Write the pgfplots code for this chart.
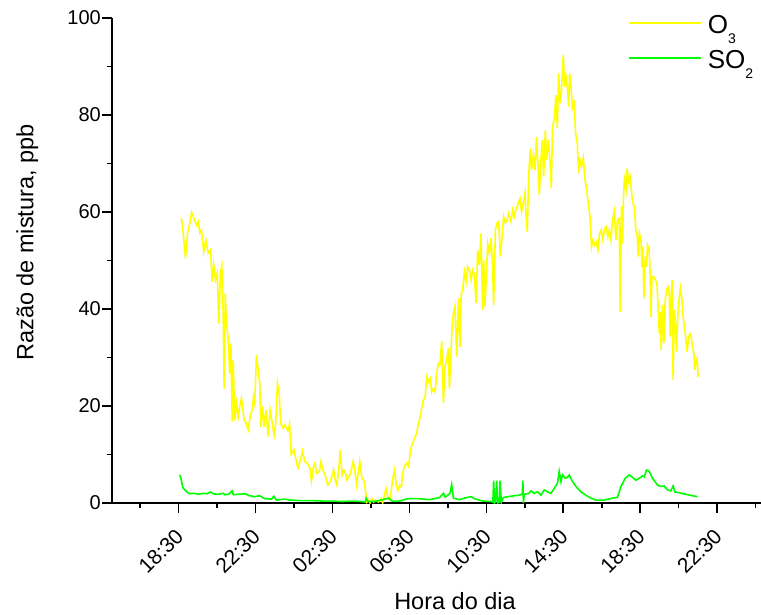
\documentclass[border=0pt]{standalone}
\usepackage{pgfplots}
\pgfplotsset{compat=1.18}
\usepackage{pgfplotstable}
\usepackage{fontspec}
\setmainfont{Liberation Sans}

\definecolor{oyellow}{RGB}{255,255,0}
\definecolor{sgreen}{RGB}{0,255,0}

% O3 mixing ratio (ppb); time in hours counted from midnight of the first day
\pgfplotstableread{
h v
18.62 58.7
18.66 58.5
18.74 55.7
18.86 50.5
18.97 55.7
19.09 57.7
19.18 59.9
19.32 58.5
19.44 57.3
19.52 58.0
19.61 55.7
19.69 56.3
19.81 51.8
19.92 54.2
20.04 51.5
20.16 52.2
20.25 45.6
20.33 49.1
20.42 46.0
20.51 47.4
20.59 37.0
20.68 47.7
20.75 48.9
20.82 39.1
20.87 23.6
20.93 43.2
20.99 37.0
21.08 34.0
21.16 26.7
21.22 32.9
21.29 16.8
21.34 29.5
21.42 17.1
21.51 20.6
21.60 17.8
21.68 19.9
21.77 21.6
21.91 17.1
22.02 16.4
22.12 15.1
22.22 17.8
22.33 19.2
22.40 21.9
22.46 20.6
22.55 30.5
22.64 27.4
22.72 24.7
22.78 15.7
22.86 19.9
22.95 15.7
23.04 19.2
23.16 13.7
23.26 19.2
23.37 16.4
23.47 14.0
23.55 16.4
23.64 24.7
23.73 22.6
23.81 16.4
23.94 15.4
24.02 16.1
24.18 14.9
24.27 16.3
24.36 10.0
24.50 11.0
24.62 8.6
24.71 7.2
24.84 8.9
24.94 10.7
25.06 8.6
25.20 8.2
25.33 7.2
25.41 4.5
25.50 7.2
25.59 8.2
25.68 6.1
25.82 6.5
25.91 8.6
26.00 6.8
26.12 5.8
26.26 3.7
26.39 4.4
26.47 5.4
26.56 6.8
26.65 4.7
26.73 3.7
26.82 6.5
26.91 11.0
27.00 5.8
27.09 6.8
27.18 6.1
27.26 4.7
27.35 5.4
27.44 6.1
27.58 8.6
27.67 6.5
27.76 3.7
27.85 6.5
27.92 8.6
28.02 5.4
28.15 4.4
28.24 1.9
28.29 0.2
28.38 0.6
28.46 0.0
28.55 0.9
28.64 0.2
28.76 0.6
28.90 0.2
29.02 0.9
29.11 0.0
29.20 1.6
29.29 3.0
29.38 1.2
29.47 0.6
29.55 2.3
29.64 5.1
29.73 6.8
29.82 3.7
29.91 2.6
30.00 3.7
30.08 3.3
30.15 6.1
30.24 7.5
30.36 8.2
30.46 7.5
30.55 10.9
30.67 12.3
30.76 13.3
30.88 14.4
30.97 16.4
31.06 17.8
31.14 19.5
31.23 21.2
31.32 21.9
31.40 26.0
31.49 25.0
31.58 25.7
31.66 22.9
31.75 23.6
31.84 22.9
31.92 26.7
32.01 28.8
32.09 28.5
32.18 33.3
32.27 20.6
32.35 28.1
32.44 29.5
32.53 31.9
32.58 23.6
32.67 31.5
32.72 36.4
32.79 39.1
32.87 40.5
32.96 30.2
33.05 42.2
33.13 32.2
33.19 42.9
33.27 43.9
33.36 47.7
33.45 45.6
33.53 48.7
33.62 48.0
33.71 46.0
33.79 48.0
33.88 47.0
33.97 41.2
34.05 52.2
34.14 49.1
34.22 55.6
34.31 39.8
34.36 50.1
34.43 40.5
34.52 48.7
34.57 53.5
34.66 51.5
34.74 54.6
34.83 48.7
34.88 40.8
34.97 56.3
35.06 57.7
35.14 58.0
35.23 50.8
35.32 54.9
35.40 59.0
35.49 57.7
35.58 58.4
35.66 59.7
35.78 58.0
35.87 60.4
35.95 59.0
36.04 60.4
36.16 61.8
36.25 62.8
36.33 60.1
36.42 61.8
36.51 63.9
36.56 59.7
36.63 55.9
36.70 67.3
36.79 73.1
36.85 68.7
36.94 71.8
37.03 68.7
37.11 75.5
37.19 69.3
37.25 63.5
37.34 70.7
37.41 74.8
37.48 67.3
37.57 76.9
37.63 70.7
37.72 74.8
37.81 70.7
37.88 64.9
37.94 77.6
38.03 79.0
38.12 84.1
38.19 77.3
38.26 88.6
38.33 82.4
38.40 84.5
38.50 92.4
38.57 85.8
38.64 87.9
38.71 85.8
38.78 81.7
38.83 88.6
38.90 86.2
38.98 81.4
39.07 82.4
39.14 76.2
39.23 74.2
39.30 68.0
39.37 70.7
39.45 69.3
39.54 71.1
39.63 66.6
39.71 64.9
39.80 61.8
39.89 59.0
39.97 52.8
40.04 54.2
40.13 53.2
40.21 53.9
40.30 52.2
40.39 55.6
40.47 56.3
40.56 54.2
40.65 56.6
40.73 57.0
40.82 54.9
40.89 56.3
40.98 54.2
41.06 58.4
41.15 60.1
41.24 54.2
41.32 58.4
41.41 58.7
41.46 39.4
41.53 61.1
41.58 53.5
41.63 63.2
41.68 66.6
41.76 64.5
41.82 69.0
41.89 66.2
41.97 67.3
42.03 64.9
42.10 62.1
42.19 61.1
42.28 55.9
42.34 55.6
42.40 50.8
42.46 55.6
42.54 54.2
42.59 48.7
42.64 52.8
42.69 42.2
42.76 50.8
42.83 48.7
42.88 53.2
42.95 52.5
43.00 49.4
43.06 38.4
43.11 46.7
43.19 46.7
43.28 46.0
43.37 45.3
43.44 39.8
43.49 35.0
43.54 39.4
43.59 31.5
43.66 40.8
43.73 32.9
43.80 41.9
43.87 43.9
43.94 44.6
44.01 43.2
44.06 34.3
44.11 41.9
44.16 46.0
44.21 25.4
44.27 39.8
44.32 37.7
44.39 31.2
44.46 39.1
44.53 42.5
44.59 44.3
44.67 41.9
44.73 38.4
44.80 36.4
44.87 34.0
44.94 31.2
45.01 34.0
45.08 35.0
45.15 34.3
45.22 32.2
45.29 30.9
45.34 27.4
45.39 29.1
45.46 29.8
45.51 26.0
}\tableOthree

% SO2 mixing ratio (ppb)
\pgfplotstableread{
h v
18.55 5.8
18.62 5.2
18.72 3.2
18.83 2.7
18.95 2.2
19.09 1.9
19.30 2.0
19.55 1.8
19.80 2.0
20.00 1.9
20.16 2.3
20.30 1.9
20.55 1.8
20.82 2.0
20.90 1.7
21.10 1.8
21.29 2.5
21.35 1.7
21.60 1.8
21.94 1.9
22.20 1.5
22.46 1.3
22.72 1.5
22.98 0.9
23.33 0.8
23.45 1.4
23.59 0.6
24.02 0.8
24.33 0.6
24.80 0.5
25.40 0.5
26.00 0.4
26.50 0.4
27.00 0.3
27.50 0.4
28.00 0.3
28.20 0.2
28.25 1.0
28.35 0.3
28.70 0.3
29.42 1.0
29.60 0.4
30.00 0.4
30.41 0.9
30.92 0.9
31.54 0.7
32.06 1.1
32.27 2.0
32.37 1.2
32.49 1.6
32.61 2.0
32.70 3.8
32.79 1.0
33.10 0.7
33.45 1.1
33.71 1.3
33.88 0.9
34.31 0.4
34.74 0.3
34.84 0.2
34.88 4.6
34.93 0.0
34.98 0.2
35.04 4.6
35.09 0.0
35.18 0.2
35.21 4.6
35.28 0.1
35.38 1.1
35.61 1.3
35.95 1.5
36.21 1.6
36.37 1.9
36.40 4.6
36.43 0.0
36.47 1.8
36.73 2.0
36.82 2.5
36.99 2.0
37.16 2.3
37.34 1.6
37.51 2.7
37.68 2.3
37.86 2.0
38.03 3.0
38.20 4.1
38.29 6.5
38.38 4.4
38.46 5.8
38.60 5.1
38.72 5.3
38.81 5.8
38.98 4.4
39.16 3.4
39.42 2.3
39.68 1.6
39.94 1.0
40.20 0.6
40.63 0.6
41.06 1.0
41.32 1.2
41.50 3.4
41.72 5.1
41.93 5.8
42.10 5.3
42.28 4.7
42.45 5.1
42.62 5.6
42.71 5.4
42.83 6.8
42.97 6.5
43.14 5.1
43.40 3.7
43.58 3.4
43.75 3.5
43.92 2.7
44.09 2.5
44.21 3.5
44.30 2.3
44.53 2.1
44.87 1.8
45.22 1.5
45.48 1.3
}\tableSOtwo

\begin{document}
\begin{tikzpicture}
\begin{axis}[
  scale only axis,
  width=649pt, height=485pt,
  xmin=15.04, xmax=48.78,
  ymin=0, ymax=100,
  axis lines=left,
  axis line style={-, line width=1.8pt, black},
  tick align=outside,
  major tick length=9.5pt,
  minor tick length=5pt,
  tick style={line width=1.6pt, black},
  xtick={18.5,22.5,...,46.5},
  xticklabels={18:30,22:30,02:30,06:30,10:30,14:30,18:30,22:30},
  minor xtick={16.5,20.5,...,48.5},
  ytick={0,20,...,100},
  minor ytick={10,30,...,90},
  tick label style={font=\fontsize{20}{24}\selectfont},
  /pgf/number format/assume math mode=true,
  % shifts come before the rotation so they act in page directions
  xticklabel style={font=\fontsize{21}{25}\selectfont, inner sep=0pt,
    anchor=east, xshift=1pt, yshift=-20pt, rotate=45},
  yticklabel style={inner sep=1.5pt},
  xlabel={Hora do dia},
  ylabel={Razão de mistura, ppb},
  label style={font=\fontsize{23.5}{28}\selectfont},
  xlabel style={at={(axis description cs:0.5285,-0.2186)}, anchor=base},
  ylabel style={at={(axis description cs:-0.1212,0.537)}, anchor=base},
  legend image code/.code={\draw[#1] (0pt,10pt) -- (72.4pt,10pt);},
  legend style={at={(axis description cs:0.7955,1.0097)}, anchor=north west,
    draw=none, fill=none, inner sep=0pt, outer sep=0pt,
    row sep=4pt, column sep=5.5pt,
    font=\fontsize{26}{30}\selectfont,
    cells={anchor=base west},
    nodes={inner sep=0pt, text height=20pt, text depth=11pt}},
]
\addplot[oyellow, line width=1.6pt] table[x=h, y=v] {\tableOthree};
\addlegendentry{O\raisebox{-10pt}{\fontsize{14}{14}\selectfont 3}}
\addplot[sgreen, line width=1.6pt] table[x=h, y=v] {\tableSOtwo};
\addlegendentry{SO\raisebox{-10pt}{\fontsize{14}{14}\selectfont 2}}
\end{axis}
\pgfresetboundingbox
\path[use as bounding box] (-112pt,-111pt) rectangle (649pt,503pt);
\end{tikzpicture}
\end{document}
